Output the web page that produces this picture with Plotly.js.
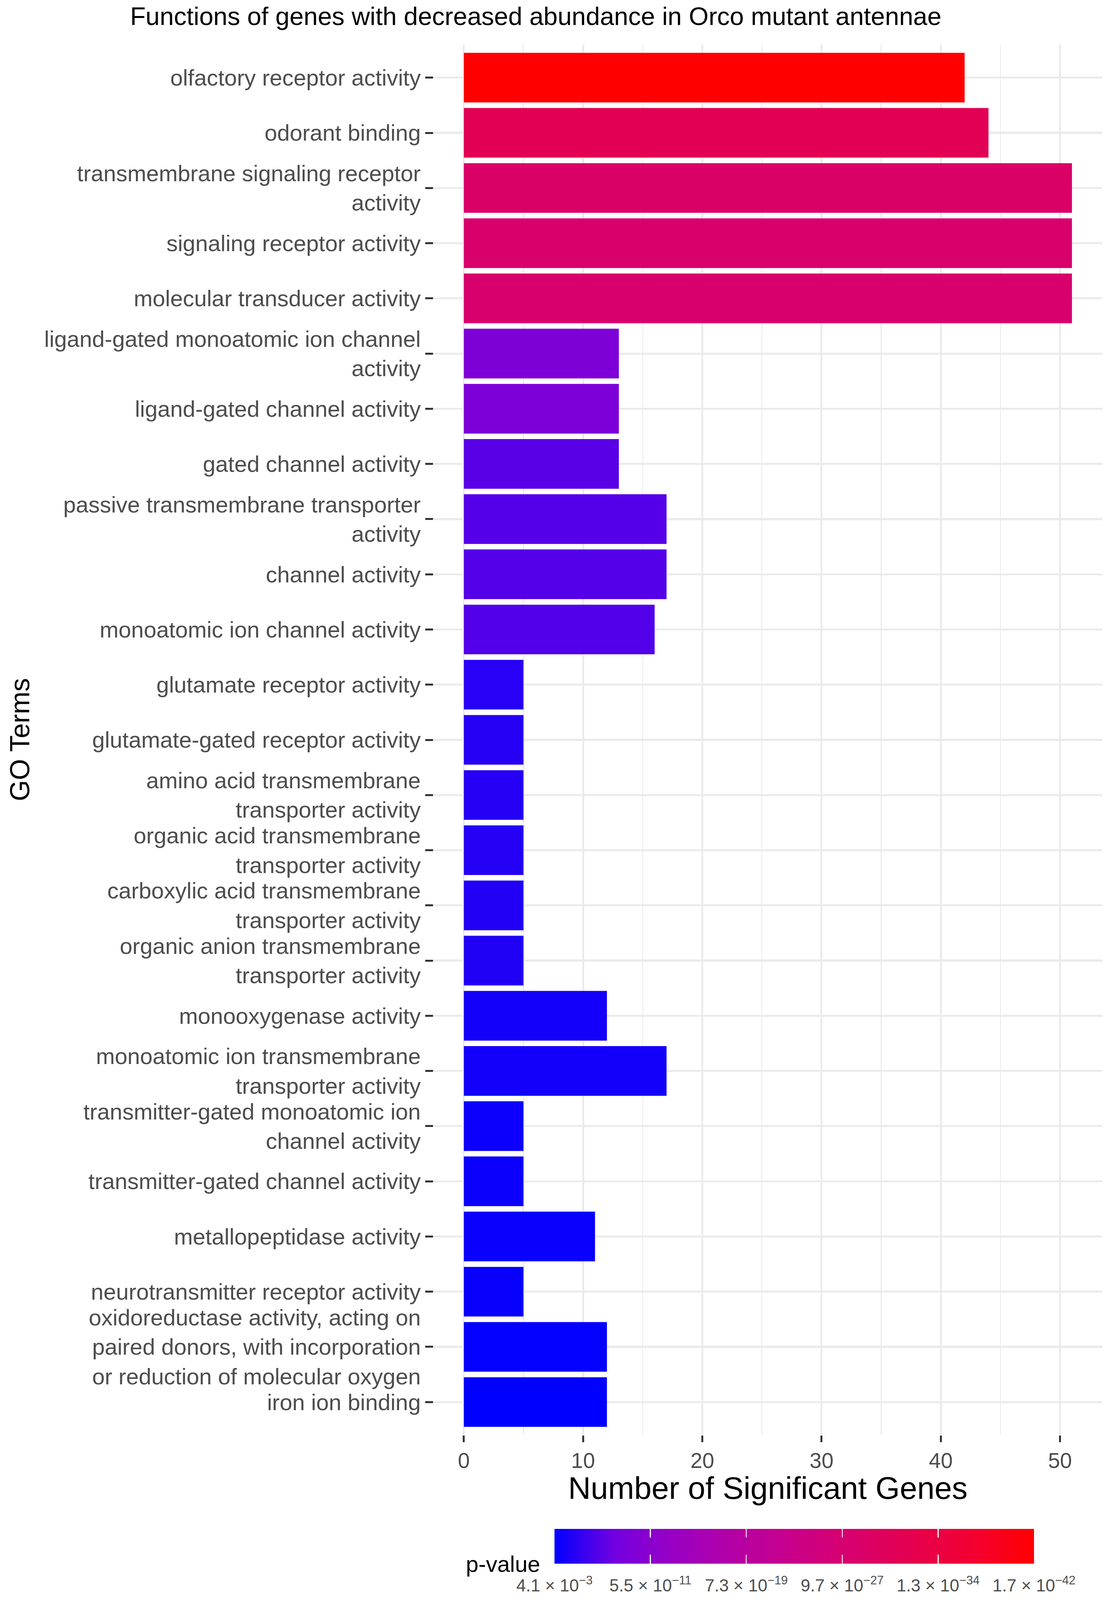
<!DOCTYPE html>
<html>
<head>
<meta charset="utf-8">
<script src="https://cdn.plot.ly/plotly-3.0.1.min.js"></script>
<style>html,body{margin:0;padding:0;background:#fff;overflow:hidden;}</style>
</head>
<body>
<div id="chart"></div>
<script>
// ---- data ----
const goTerms = [
  "olfactory receptor activity",
  "odorant binding",
  "transmembrane signaling receptor\nactivity",
  "signaling receptor activity",
  "molecular transducer activity",
  "ligand-gated monoatomic ion channel\nactivity",
  "ligand-gated channel activity",
  "gated channel activity",
  "passive transmembrane transporter\nactivity",
  "channel activity",
  "monoatomic ion channel activity",
  "glutamate receptor activity",
  "glutamate-gated receptor activity",
  "amino acid transmembrane\ntransporter activity",
  "organic acid transmembrane\ntransporter activity",
  "carboxylic acid transmembrane\ntransporter activity",
  "organic anion transmembrane\ntransporter activity",
  "monooxygenase activity",
  "monoatomic ion transmembrane\ntransporter activity",
  "transmitter-gated monoatomic ion\nchannel activity",
  "transmitter-gated channel activity",
  "metallopeptidase activity",
  "neurotransmitter receptor activity",
  "oxidoreductase activity, acting on\npaired donors, with incorporation\nor reduction of molecular oxygen",
  "iron ion binding"
];
const geneCounts = [42, 44, 51, 51, 51, 13, 13, 13, 17, 17, 16, 5, 5, 5, 5, 5, 5, 12, 17, 5, 5, 11, 5, 12, 12];
const pValues = [1.74e-42, 1.85e-31, 1.05e-28, 6.5e-28, 1.6e-27, 1.7e-9, 2.5e-9, 6.3e-7, 9.9e-7, 1.1e-6,
  1.3e-6, 9.2e-5, 1.0e-4, 1.1e-4, 1.2e-4, 1.4e-4, 1.6e-4, 6.2e-4, 6.7e-4, 1.3e-3,
  1.4e-3, 1.7e-3, 2.0e-3, 3.2e-3, 4.14e-3];
const pValueTickLabels = [
  "4.1 × 10<sup>−3</sup>", "5.5 × 10<sup>−11</sup>", "7.3 × 10<sup>−19</sup>",
  "9.7 × 10<sup>−27</sup>", "1.3 × 10<sup>−34</sup>", "1.7 × 10<sup>−42</sup>"
];
const xTickValues = [0, 10, 20, 30, 40, 50];

// ---- derived ----
const labels = goTerms.map(s => s.replace(/\n/g, "<br>"));
const negLogP = pValues.map(p => -Math.log10(p));
const cmin = Math.min(...negLogP), cmax = Math.max(...negLogP);
const cbTickVals = pValueTickLabels.map((_, i) => cmin + (cmax - cmin) * i / (pValueTickLabels.length - 1));
const xMax = Math.max(...geneCounts);
const xPad = xMax * 0.05;

// ggplot-like blue->red gradient (Lab interpolation)
const colorscale = [
  [0, '#0000FF'], [0.125, '#7300E0'], [0.25, '#9A00C3'], [0.375, '#B500A5'],
  [0.5, '#CA0088'], [0.625, '#D9006C'], [0.75, '#E5004D'], [0.875, '#F40031'], [1, '#FF0000']
];

// ---- geometry (reference is 2840 x 4715; fit to the actual viewport) ----
const REF_W = 2840, REF_H = 4715;
const W = window.innerWidth || REF_W;
const H = window.innerHeight || REF_H;
const sx = W / REF_W, sy = H / REF_H;
const d = document.getElementById('chart');
d.style.width = W + 'px';
d.style.height = H + 'px';

const L = 1110 * sx, R = 17 * sx, T = 131 * sy, B = (REF_H - 4232) * sy;
const plotW = W - L - R, plotH = H - T - B;
const px2x = px => (px * sx - L) / plotW;
const px2y = py => (H - B - py * sy) / plotH;

// colour bar placement (reference pixels)
const CB_LEFT = 1420, CB_LEN = 1228, CB_TOP = 4508, CB_THICK = 103;
const CB_TICK = CB_THICK / 4;

const FONT = "Liberation Sans, Arial, Helvetica, sans-serif";

function colorbarBase(top, thick) {
  return {
    orientation: 'h',
    thickness: thick * sy,
    thicknessmode: 'pixels',
    len: CB_LEN * sx,
    lenmode: 'pixels',
    x: px2x(CB_LEFT + CB_LEN / 2),
    xanchor: 'center',
    y: px2y(top),
    yanchor: 'top',
    xpad: 0,
    ypad: 0,
    outlinewidth: 0,
    tickmode: 'array',
    tickvals: cbTickVals
  };
}

const barTrace = {
  type: 'bar',
  orientation: 'h',
  y: labels,
  x: geneCounts,
  width: 0.9,
  hoverinfo: 'none',
  marker: {
    color: negLogP,
    colorscale: colorscale,
    cmin: cmin,
    cmax: cmax,
    line: {width: 0},
    showscale: true,
    colorbar: Object.assign(colorbarBase(CB_TOP, CB_THICK), {
      ticktext: pValueTickLabels,
      ticks: 'outside',
      ticklen: 22 * sy,
      tickwidth: 1,
      tickcolor: 'rgba(255,255,255,0)',
      tickfont: {family: FONT, size: 44, color: '#4D4D4D'}
    })
  }
};

// invisible helper traces: only their colour bars are seen, giving the white
// break marks at the bottom and the top edge of the legend bar (ggplot style)
function tickOverlay(top, thick) {
  return {
    type: 'scatter',
    mode: 'markers',
    y: labels,
    x: geneCounts,
    hoverinfo: 'none',
    showlegend: false,
    marker: {
      size: 1,
      opacity: 0,
      color: negLogP,
      colorscale: colorscale,
      cmin: cmin,
      cmax: cmax,
      showscale: true,
      colorbar: Object.assign(colorbarBase(top, thick), {
        ticktext: pValueTickLabels.map(() => ''),
        showticklabels: false,
        ticks: 'inside',
        ticklen: CB_TICK * sy,
        tickwidth: 2.5,
        tickcolor: '#FFFFFF'
      })
    }
  };
}

const layout = {
  width: W,
  height: H,
  margin: {l: L, r: R, t: T, b: B, pad: 0},
  paper_bgcolor: '#FFFFFF',
  plot_bgcolor: '#FFFFFF',
  font: {family: FONT, color: '#4D4D4D'},
  showlegend: false,
  title: {
    text: 'Functions of genes with decreased abundance in Orco mutant antennae',
    font: {family: FONT, size: 65, color: '#000000'},
    x: 1372 / REF_W, xanchor: 'center', xref: 'container',
    y: 1 - 48 / REF_H, yanchor: 'middle', yref: 'container'
  },
  xaxis: {
    range: [-xPad, xMax + xPad],
    tickmode: 'array',
    tickvals: xTickValues,
    ticks: 'outside',
    ticklen: 20 * sy,
    tickwidth: 5,
    tickcolor: '#333333',
    tickfont: {family: FONT, size: 55, color: '#4D4D4D'},
    showgrid: true,
    gridcolor: '#EBEBEB',
    gridwidth: 5,
    minor: {dtick: 5, tick0: 0, showgrid: true, gridcolor: '#EBEBEB', gridwidth: 2.5, ticks: ''},
    zeroline: false,
    showline: false,
    automargin: false,
    fixedrange: true
  },
  yaxis: {
    type: 'category',
    categoryorder: 'array',
    categoryarray: labels,
    range: [labels.length - 0.4, -0.6],
    ticks: 'outside',
    ticklen: 20 * sx,
    tickwidth: 5,
    tickcolor: '#333333',
    tickfont: {family: FONT, size: 58, color: '#4D4D4D'},
    showgrid: true,
    gridcolor: '#EBEBEB',
    gridwidth: 6 * sy,
    zeroline: false,
    showline: false,
    automargin: false,
    fixedrange: true
  },
  annotations: [
    {
      text: 'Number of Significant Genes',
      xref: 'paper', yref: 'paper',
      x: 0.5, y: px2y(4388),
      xanchor: 'center', yanchor: 'middle',
      showarrow: false,
      font: {family: FONT, size: 80, color: '#000000'}
    },
    {
      text: 'GO Terms',
      xref: 'paper', yref: 'paper',
      x: px2x(51), y: 0.5,
      xanchor: 'center', yanchor: 'middle',
      textangle: -90,
      showarrow: false,
      font: {family: FONT, size: 80 * sy, color: '#000000'}
    },
    {
      text: 'p-value',
      xref: 'paper', yref: 'paper',
      x: px2x(1191), y: px2y(4612),
      xanchor: 'left', yanchor: 'middle',
      showarrow: false,
      font: {family: FONT, size: 58, color: '#000000'}
    }
  ]
};

Plotly.newPlot('chart', [barTrace, tickOverlay(CB_TOP, CB_THICK), tickOverlay(CB_TOP, CB_TICK)], layout,
  {displayModeBar: false, staticPlot: true});
</script>
</body>
</html>
